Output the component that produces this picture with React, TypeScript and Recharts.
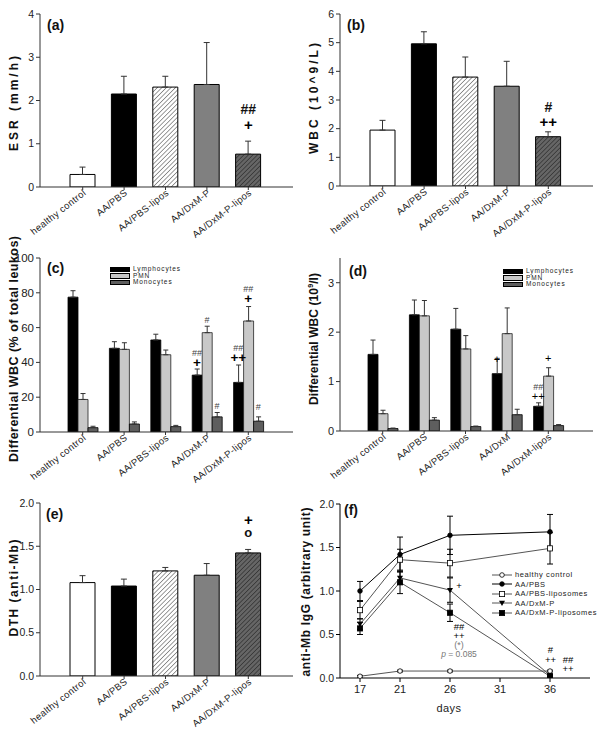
import React from 'react';
import { BarChart, Bar, LineChart, Line, XAxis, YAxis, ErrorBar, Cell, ReferenceDot, Legend } from 'recharts';

const F = "Arial, 'Liberation Sans', Helvetica, sans-serif";

// ---------- categories ----------
const groups = ['healthy control', 'AA/PBS', 'AA/PBS-lipos', 'AA/DxM-P', 'AA/DxM-P-lipos'];
const groupsD = ['healthy control', 'AA/PBS', 'AA/PBS-lipos', 'AA/DxM', 'AA/DxM-lipos'];

// ---------- (a) ESR ----------
const esrMean = [0.29, 2.15, 2.31, 2.37, 0.76];
const esrErr = [0.17, 0.41, 0.25, 0.97, 0.3];
const annA = [{ x: 'AA/DxM-P-lipos', y: 1.8, t: ['##', '+'] }];

// ---------- (b) WBC ----------
const wbcMean = [1.95, 4.96, 3.8, 3.48, 1.72];
const wbcErr = [0.34, 0.42, 0.7, 0.87, 0.17];
const annB = [{ x: 'AA/DxM-P-lipos', y: 2.76, t: ['#', '++'] }];

// ---------- (c) differential WBC % ----------
const lymPct = [77.5, 48.1, 52.9, 32.7, 28.5];
const lymPctErr = [3.7, 3.8, 3.3, 3.5, 10];
const pmnPct = [18.7, 47.5, 44.4, 57.1, 63.8];
const pmnPctErr = [3.4, 3.8, 2.7, 3.7, 8.3];
const monoPct = [2.5, 4.6, 3.1, 8.7, 6.2];
const monoPctErr = [0.8, 1.2, 0.7, 2.5, 2.5];
const annC = [
  { x: 'AA/DxM-P', s: 'L', y: 45.4, t: ['##', '+'] },
  { x: 'AA/DxM-P', s: 'P', y: 64.4, t: ['#'] },
  { x: 'AA/DxM-P', s: 'M', y: 15, t: ['#'] },
  { x: 'AA/DxM-P-lipos', s: 'L', y: 48.2, t: ['##', '++'] },
  { x: 'AA/DxM-P-lipos', s: 'P', y: 82.2, t: ['##', '+'] },
  { x: 'AA/DxM-P-lipos', s: 'M', y: 14.6, t: ['#'] },
];

// ---------- (d) differential WBC absolute ----------
const lymAbs = [1.55, 2.35, 2.06, 1.16, 0.5];
const lymAbsErr = [0.29, 0.3, 0.42, 0.31, 0.07];
const pmnAbs = [0.35, 2.33, 1.66, 1.97, 1.11];
const pmnAbsErr = [0.07, 0.31, 0.27, 0.52, 0.17];
const monoAbs = [0.05, 0.22, 0.09, 0.33, 0.11];
const monoAbsErr = [0.01, 0.05, 0.01, 0.11, 0.02];
const annD = [
  { x: 'AA/DxM', s: 'L', y: 1.45, t: ['+'] },
  { x: 'AA/DxM-lipos', s: 'L', y: 0.9, t: ['##', '++'] },
  { x: 'AA/DxM-lipos', s: 'P', y: 1.47, t: ['+'] },
];

// ---------- (e) DTH ----------
const dthMean = [1.08, 1.04, 1.215, 1.165, 1.423];
const dthErr = [0.08, 0.08, 0.04, 0.135, 0.04];
const annE = [{ x: 'AA/DxM-P-lipos', y: 1.82, t: ['+', 'o'] }];

// ---------- (f) anti-Mb IgG ----------
const days = [17, 21, 26, 36];
const hcIgG = [0.02, 0.08, 0.08, 0.08];
const hcIgGErr = [0.01, 0.01, 0.01, 0.01];
const pbsIgG = [1.0, 1.42, 1.64, 1.68];
const pbsIgGErr = [0.11, 0.2, 0.22, 0.2];
const pbsLipIgG = [0.78, 1.36, 1.32, 1.49];
const pbsLipIgGErr = [0.1, 0.12, 0.16, 0.18];
const dxmIgG = [0.62, 1.15, 1.01, 0.03];
const dxmIgGErr = [0.06, 0.07, 0.14, 0.01];
const dxmLipIgG = [0.57, 1.1, 0.75, 0.02];
const dxmLipIgGErr = [0.07, 0.13, 0.1, 0.01];
const annF = [
  { x: 26.9, y: 1.07, t: ['+'] },
  { x: 26.9, y: 0.6, t: ['##', '++', '(*)', 'p = 0.085'] },
  { x: 36.05, y: 0.33, t: ['#', '++'] },
  { x: 37.8, y: 0.22, t: ['##', '++'] },
];

// ---------- helpers ----------
const H = 255;
const AX = '#333';

const bigPlus = { fontSize: 15, fontWeight: 900, fill: '#000' };
const styleAB = (t: string) => (t.includes('+') ? bigPlus : { fontSize: 14, fontWeight: 700, fill: '#111' });
const styleC = (t: string) => (t.includes('+') ? { fontSize: 13.5, fontWeight: 900, fill: '#000' } : { fontSize: 9, fontWeight: 400, fill: '#444' });
const styleD = (t: string) => (t.includes('+') ? { fontSize: 11, fontWeight: 400, fill: '#000' } : { fontSize: 9, fontWeight: 400, fill: '#444' });
const styleE = (t: string) => (t === '+' ? bigPlus : { fontSize: 13, fontWeight: 700, fill: '#111' });
const styleF = (t: string) =>
  t.startsWith('p') ? { fontSize: 8.5, fill: '#777' } : t === '(*)' ? { fontSize: 9, fill: '#777' } : { fontSize: 9.5, fontWeight: 400, fill: '#000' };

// stacked annotation text, placed through the chart scales by ReferenceDot
const annShape = (lines: string[], dx: number, styleOf: (t: string) => any, gap: number) => (p: any) => (
  <text x={p.cx + dx} y={p.cy} textAnchor="middle" dominantBaseline="central" fontFamily={F} stroke="none">
    {lines.map((t, i) => (
      <tspan key={i} x={p.cx + dx} dy={i === 0 ? 0 : gap} {...styleOf(t)}>
        {t.startsWith('p =') ? (
          <>
            <tspan fontStyle="italic">p</tspan>
            {t.slice(1)}
          </>
        ) : (
          t
        )}
      </tspan>
    ))}
  </text>
);

const RotTick = (props: any) => {
  const { x, y, payload } = props;
  return (
    <g transform={`translate(${x + 4},${y + 2})`}>
      <text textAnchor="end" transform="rotate(-38)" fontSize={9.5} fill="#222" fontFamily={F} style={{ letterSpacing: 0.35 }}>
        {payload.value}
      </text>
    </g>
  );
};

const titles = (o: { cx: number; cy: number; len: number; text: any; panel: string; px: number; py: number; extra?: any; fs?: number }) => () => (
  <g>
    <text
      x={o.cx}
      y={o.cy}
      transform={`rotate(-90 ${o.cx} ${o.cy})`}
      textAnchor="middle"
      dominantBaseline="central"
      fontSize={o.fs || 12}
      fontWeight={700}
      fill="#111"
      fontFamily={F}
      textLength={o.len}
      lengthAdjust="spacing"
    >
      {o.text}
    </text>
    <text x={o.px} y={o.py} fontSize={14} fontWeight={700} fill="#111" fontFamily={F}>
      {o.panel}
    </text>
    {o.extra}
  </g>
);

const Hatch = ({ id }: { id: string }) => (
  <defs>
    <pattern id={`hl-${id}`} patternUnits="userSpaceOnUse" width={3.2} height={3.2} patternTransform="rotate(45)">
      <rect width={3.2} height={3.2} fill="#fff" />
      <line x1={0} y1={0} x2={0} y2={3.2} stroke="#222" strokeWidth={0.9} />
    </pattern>
    <pattern id={`hd-${id}`} patternUnits="userSpaceOnUse" width={3.2} height={3.2} patternTransform="rotate(45)">
      <rect width={3.2} height={3.2} fill="#666" />
      <line x1={0} y1={0} x2={0} y2={3.2} stroke="#111" strokeWidth={0.9} />
    </pattern>
  </defs>
);

function SingleBar(props: any) {
  const { left, top, id, values, errors, domain, ticks, fmt, plotTop, plotBottom, label, ann, annStyle, gap } = props;
  const data = groups.map((g, i) => ({ name: g, v: values[i], e: [0, errors[i]] }));
  const fills = ['#ffffff', '#000000', `url(#hl-${id})`, '#808080', `url(#hd-${id})`];
  return (
    <div style={{ position: 'absolute', left, top }}>
      <BarChart width={300} height={H} data={data} margin={{ top: plotTop, right: 7, left: 0, bottom: 0 }}>
        {Hatch({ id })}
        <XAxis
          dataKey="name"
          height={H - plotBottom}
          padding={{ left: 22, right: 24 }}
          tick={<RotTick />}
          tickSize={3}
          tickMargin={2}
          interval={0}
          tickLine={{ stroke: AX }}
          axisLine={{ stroke: AX }}
        />
        <XAxis xAxisId="top" orientation="top" dataKey="name" height={0} tick={false} tickLine={false} axisLine={{ stroke: AX }} />
        <YAxis
          domain={domain}
          ticks={ticks}
          width={40}
          tickFormatter={fmt}
          tickSize={4}
          tickMargin={2}
          axisLine={{ stroke: AX }}
          tickLine={{ stroke: AX }}
          tick={{ fontSize: 10.5, fill: '#222', fontFamily: F }}
          allowDataOverflow
          label={{ content: label }}
        />
        <YAxis yAxisId="right" orientation="right" width={0} tick={false} tickLine={false} axisLine={{ stroke: AX }} domain={[0, 1]} />
        <Bar dataKey="v" barSize={25} stroke="#000" strokeWidth={1} isAnimationActive={false}>
          {data.map((d, i) => (
            <Cell key={i} fill={fills[i]} />
          ))}
          <ErrorBar dataKey="e" width={3} stroke="#333" strokeWidth={1} direction="y" />
        </Bar>
        {ann.map((a: any, i: number) => (
          <ReferenceDot key={i} x={a.x} y={a.y} r={0} ifOverflow="visible" shape={annShape(a.t, 0, annStyle, gap)} />
        ))}
      </BarChart>
    </div>
  );
}

const grpColors = { L: '#000000', P: '#c8c8c8', M: '#5e5e5e' };
const grpNames = { L: 'Lymphocytes', P: 'PMN', M: 'Monocytes' };
const grpDx: any = { L: -10, P: 0, M: 10 };

const BoxLegend = () => (
  <div style={{ fontFamily: F, fontSize: 6.5, color: '#222', whiteSpace: 'nowrap' }}>
    {(['L', 'P', 'M'] as const).map((k) => (
      <div key={k} style={{ display: 'flex', alignItems: 'center', height: 6.6 }}>
        <span
          style={{
            display: 'inline-block',
            width: 18,
            height: 3.5,
            background: grpColors[k],
            border: '0.8px solid #000',
            marginRight: 3,
            flex: 'none',
          }}
        />
        <span style={{ letterSpacing: 0.9, lineHeight: '6.6px' }}>{grpNames[k]}</span>
      </div>
    ))}
  </div>
);

function GroupBar(props: any) {
  const { left, top, h, cats, L, Le, P, Pe, M, Me, domain, ticks, plotTop, plotBottom, label, ann, annStyle, legendPos, gap, tickFs } = props;
  const data = cats.map((g: string, i: number) => ({
    name: g,
    l: L[i],
    le: [0, Le[i]],
    p: P[i],
    pe: [0, Pe[i]],
    m: M[i],
    me: [0, Me[i]],
  }));
  return (
    <div style={{ position: 'absolute', left, top }}>
      <BarChart width={300} height={h} data={data} barGap={0} margin={{ top: plotTop, right: 7, left: 0, bottom: 0 }}>
        <XAxis
          dataKey="name"
          height={h - plotBottom}
          padding={{ left: 22, right: 24 }}
          tick={<RotTick />}
          tickSize={3}
          tickMargin={2}
          interval={0}
          tickLine={{ stroke: AX }}
          axisLine={{ stroke: AX }}
        />
        <XAxis xAxisId="top" orientation="top" dataKey="name" height={0} tick={false} tickLine={false} axisLine={{ stroke: AX }} />
        <YAxis
          domain={domain}
          ticks={ticks}
          width={40}
          tickSize={4}
          tickMargin={2}
          axisLine={{ stroke: AX }}
          tickLine={{ stroke: AX }}
          tick={{ fontSize: tickFs, fill: '#222', fontFamily: F }}
          allowDataOverflow
          label={{ content: label }}
        />
        <YAxis yAxisId="right" orientation="right" width={0} tick={false} tickLine={false} axisLine={{ stroke: AX }} domain={[0, 1]} />
        <Legend
          layout="horizontal"
          verticalAlign="middle"
          align="center"
          content={() => <BoxLegend />}
          wrapperStyle={{ left: legendPos[0], top: legendPos[1], width: 'auto', height: 'auto' }}
        />
        <Bar dataKey="l" barSize={10} fill={grpColors.L} stroke="#000" strokeWidth={0.8} isAnimationActive={false}>
          <ErrorBar dataKey="le" width={2.5} stroke="#333" strokeWidth={1} direction="y" />
        </Bar>
        <Bar dataKey="p" barSize={10} fill={grpColors.P} stroke="#222" strokeWidth={0.8} isAnimationActive={false}>
          <ErrorBar dataKey="pe" width={2.5} stroke="#333" strokeWidth={1} direction="y" />
        </Bar>
        <Bar dataKey="m" barSize={10} fill={grpColors.M} stroke="#000" strokeWidth={0.8} isAnimationActive={false}>
          <ErrorBar dataKey="me" width={2.5} stroke="#333" strokeWidth={1} direction="y" />
        </Bar>
        {ann.map((a: any, i: number) => (
          <ReferenceDot key={i} x={a.x} y={a.y} r={0} ifOverflow="visible" shape={annShape(a.t, grpDx[a.s], annStyle, gap)} />
        ))}
      </BarChart>
    </div>
  );
}

// markers for (f)
const mk = (kind: string) => (p: any) => {
  const { cx, cy, key } = p;
  if (cx == null || cy == null) return <g key={key} />;
  if (kind === 'oc') return <circle key={key} cx={cx} cy={cy} r={2.3} fill="#fff" stroke="#000" strokeWidth={0.8} />;
  if (kind === 'fc') return <circle key={key} cx={cx} cy={cy} r={2.3} fill="#000" stroke="#000" strokeWidth={0.8} />;
  if (kind === 'os') return <rect key={key} x={cx - 2.6} y={cy - 2.6} width={5.2} height={5.2} fill="#fff" stroke="#000" strokeWidth={0.8} />;
  if (kind === 'fs') return <rect key={key} x={cx - 2.6} y={cy - 2.6} width={5.2} height={5.2} fill="#000" stroke="#000" strokeWidth={0.8} />;
  return <path key={key} d={`M${cx - 3},${cy - 2.2} L${cx + 3},${cy - 2.2} L${cx},${cy + 3} Z`} fill="#000" />;
};

const lineSeries = [
  { name: 'healthy control', vals: hcIgG, errs: hcIgGErr, kind: 'oc', color: '#555' },
  { name: 'AA/PBS', vals: pbsIgG, errs: pbsIgGErr, kind: 'fc', color: '#000' },
  { name: 'AA/PBS-liposomes', vals: pbsLipIgG, errs: pbsLipIgGErr, kind: 'os', color: '#555' },
  { name: 'AA/DxM-P', vals: dxmIgG, errs: dxmIgGErr, kind: 'td', color: '#555' },
  { name: 'AA/DxM-P-liposomes', vals: dxmLipIgG, errs: dxmLipIgGErr, kind: 'fs', color: '#555' },
];

const LineLegend = () => (
  <div style={{ fontFamily: F, fontSize: 7.5, color: '#222', whiteSpace: 'nowrap' }}>
    {lineSeries.map((s) => (
      <div key={s.name} style={{ display: 'flex', alignItems: 'center', height: 9.5 }}>
        <svg width={20} height={8} style={{ marginRight: 3, flex: 'none' }}>
          <line x1={0} y1={4} x2={20} y2={4} stroke={s.color} strokeWidth={1} />
          {mk(s.kind)({ cx: 10, cy: 4, key: s.name })}
        </svg>
        <span style={{ letterSpacing: 0.6, lineHeight: '9px' }}>{s.name}</span>
      </div>
    ))}
  </div>
);

function LinePanel({ left, top }: { left: number; top: number }) {
  const plotTop = 24;
  const plotBottom = 198;
  const label = titles({
    cx: 6,
    cy: 112,
    len: 169,
    text: 'anti-Mb IgG (arbitrary unit)',
    panel: '(f)',
    px: 44,
    py: 35,
    extra: (
      <text x={149} y={232} textAnchor="middle" fontSize={11} fill="#222" fontFamily={F} style={{ letterSpacing: 0.5 }}>
        days
      </text>
    ),
  });
  return (
    <div style={{ position: 'absolute', left, top }}>
      <LineChart width={300} height={H} margin={{ top: plotTop, right: 10, left: 0, bottom: 0 }}>
        <XAxis
          type="number"
          dataKey="day"
          domain={[15, 40]}
          ticks={[17, 21, 26, 31, 36]}
          allowDataOverflow
          height={H - plotBottom}
          tickSize={4}
          tickMargin={3}
          axisLine={{ stroke: '#000' }}
          tickLine={{ stroke: '#000' }}
          tick={{ fontSize: 11, fill: '#222', fontFamily: F }}
        />
        <YAxis
          type="number"
          domain={[0, 2]}
          ticks={[0, 0.5, 1, 1.5, 2]}
          tickFormatter={(v: number) => v.toFixed(1)}
          width={40}
          tickSize={4}
          tickMargin={2}
          allowDataOverflow
          axisLine={{ stroke: '#000' }}
          tickLine={{ stroke: '#000' }}
          tick={{ fontSize: 10.5, fill: '#222', fontFamily: F }}
          label={{ content: label }}
        />
        <Legend
          layout="horizontal"
          verticalAlign="middle"
          align="center"
          content={() => <LineLegend />}
          wrapperStyle={{ left: 192, top: 90, width: 'auto', height: 'auto' }}
        />
        {lineSeries.map((s) => (
          <Line
            key={s.name}
            name={s.name}
            data={days.map((d, i) => ({ day: d, v: s.vals[i], e: s.errs[i] }))}
            dataKey="v"
            stroke={s.color}
            strokeWidth={1}
            dot={mk(s.kind)}
            activeDot={false}
            isAnimationActive={false}
          >
            <ErrorBar dataKey="e" width={3} stroke="#000" strokeWidth={1} direction="y" />
          </Line>
        ))}
        {annF.map((a, i) => (
          <ReferenceDot key={i} x={a.x} y={a.y} r={0} ifOverflow="visible" shape={annShape(a.t, 0, styleF, 9.5)} />
        ))}
      </LineChart>
    </div>
  );
}

export default function App() {
  return (
    <div style={{ position: 'absolute', left: 0, top: 0, width: 600, height: 735, background: '#fff', overflow: 'hidden' }}>
      <SingleBar
        left={0}
        top={0}
        id="a"
        values={esrMean}
        errors={esrErr}
        domain={[0, 4]}
        ticks={[0, 1, 2, 3, 4]}
        plotTop={14}
        plotBottom={187}
        ann={annA}
        annStyle={styleAB}
        gap={15}
        label={titles({ cx: 14, cy: 103.5, len: 95, text: 'ESR (mm/h)', panel: '(a)', px: 47, py: 30 })}
      />
      <SingleBar
        left={300}
        top={0}
        id="b"
        values={wbcMean}
        errors={wbcErr}
        domain={[0, 6]}
        ticks={[0, 1, 2, 3, 4, 5, 6]}
        plotTop={14}
        plotBottom={186}
        ann={annB}
        annStyle={styleAB}
        gap={14}
        label={titles({ cx: 14, cy: 98.5, len: 111, text: 'WBC (10^9/L)', panel: '(b)', px: 47, py: 30 })}
      />
      <GroupBar
        left={0}
        top={228}
        h={268}
        cats={groups}
        L={lymPct}
        Le={lymPctErr}
        P={pmnPct}
        Pe={pmnPctErr}
        M={monoPct}
        Me={monoPctErr}
        domain={[0, 100]}
        ticks={[0, 20, 40, 60, 80, 100]}
        plotTop={30}
        plotBottom={204}
        ann={annC}
        annStyle={styleC}
        gap={9}
        tickFs={11.5}
        legendPos={[110, 38]}
        label={titles({ cx: 14, cy: 121, len: 226, fs: 12.5, text: 'Differential WBC (% of total leukos)', panel: '(c)', px: 47, py: 45 })}
      />
      <GroupBar
        left={300}
        top={240}
        h={262}
        cats={groupsD}
        L={lymAbs}
        Le={lymAbsErr}
        P={pmnAbs}
        Pe={pmnAbsErr}
        M={monoAbs}
        Me={monoAbsErr}
        domain={[0, 3.5]}
        ticks={[0, 1, 2, 3]}
        plotTop={18}
        plotBottom={191}
        ann={annD}
        annStyle={styleD}
        gap={9}
        tickFs={11}
        legendPos={[203, 28]}
        label={titles({
          cx: 14,
          cy: 99,
          len: 132,
          text: (
            <>
              Differential WBC (10<tspan fontSize={7} dy={-4}>9</tspan>
              <tspan dy={4}>/l)</tspan>
            </>
          ),
          panel: '(d)',
          px: 49,
          py: 36,
        })}
      />
      <SingleBar
        left={0}
        top={480}
        id="e"
        values={dthMean}
        errors={dthErr}
        domain={[0, 2]}
        ticks={[0, 0.5, 1, 1.5, 2]}
        fmt={(v: number) => v.toFixed(1)}
        plotTop={23}
        plotBottom={196}
        ann={annE}
        annStyle={styleE}
        gap={13.5}
        label={titles({ cx: 14, cy: 108, len: 97, text: 'DTH (anti-Mb)', panel: '(e)', px: 46, py: 39 })}
      />
      <LinePanel left={300} top={480} />
    </div>
  );
}
